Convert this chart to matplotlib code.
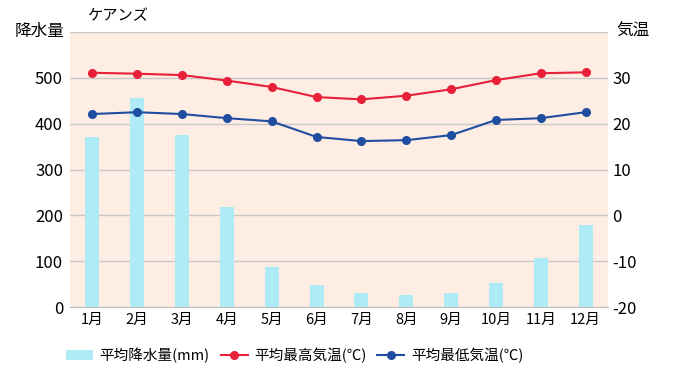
import matplotlib
matplotlib.use("Agg")
import matplotlib.pyplot as plt
import numpy as np

plt.rcParams['font.family'] = ['Noto Sans CJK JP', 'DejaVu Sans']

months = ["1月", "2月", "3月", "4月", "5月", "6月", "7月", "8月", "9月", "10月", "11月", "12月"]
precip = [371, 456, 376, 219, 87, 48, 31, 26, 31, 53, 107, 179]
tmax = [31.1, 30.9, 30.6, 29.4, 28.0, 25.8, 25.3, 26.1, 27.5, 29.5, 31.0, 31.2]
tmin = [22.1, 22.5, 22.1, 21.2, 20.5, 17.1, 16.2, 16.4, 17.5, 20.8, 21.2, 22.5]
left_ticks = [0, 100, 200, 300, 400, 500]
right_ticks = [-20, -10, 0, 10, 20, 30]

bar_color = "#AEEBF5"
red = "#E8203A"
blue = "#1F4DA0"
bg = "#FDEDE3"

fig = plt.figure(figsize=(6.8, 3.83), dpi=100)
ax = fig.add_axes([70/680, 1-307/383, 538/680, 275/383])
ax.set_facecolor(bg)
x = np.arange(len(months))
ax.set_xlim(-0.5, 11.5)
ax.set_ylim(0, 600)
for t in [100, 200, 300, 400, 500, 600]:
    ax.axhline(t, color="#C8C8C8", lw=1, zorder=1)
bars = ax.bar(x, precip, width=0.31, color=bar_color, zorder=2)
ax.set_yticks(left_ticks)
ax.set_yticklabels([str(v) for v in left_ticks], fontsize=12)
ax.set_xticks(x)
ax.set_xticklabels(months, fontsize=10.5)
ax.tick_params(axis='y', length=0, pad=5)
ax.tick_params(axis='x', length=0, pad=4)
for s in ['left', 'right', 'top']:
    ax.spines[s].set_visible(False)
ax.spines['bottom'].set_color("#BBBBBB")

ax2 = ax.twinx()
ax2.set_ylim(-20, 40)
l1, = ax2.plot(x, tmax, color=red, marker='o', ms=5.5, lw=1.5, zorder=3)
l2, = ax2.plot(x, tmin, color=blue, marker='o', ms=5.5, lw=1.5, zorder=3)
ax2.set_yticks(right_ticks)
ax2.set_yticklabels([str(v) for v in right_ticks], fontsize=12)
ax2.tick_params(axis='y', length=0, pad=3)
for s in ['left', 'right', 'top', 'bottom']:
    ax2.spines[s].set_visible(False)

fig.text(88/680, 1-16/383, "ケアンズ", fontsize=11, ha='left', va='center')
fig.text(15/680, 1-31/383, "降水量", fontsize=12, ha='left', va='center')
fig.text(616/680, 1-31/383, "気温", fontsize=12, ha='left', va='center')

fig.legend([bars, l1, l2], ["平均降水量(mm)", "平均最高気温(℃)", "平均最低気温(℃)"],
           loc='center left', bbox_to_anchor=(66/680, 1-355/383), ncol=3, frameon=False,
           borderpad=0, borderaxespad=0,
           fontsize=10.5, handlelength=1.85, handletextpad=0.45, columnspacing=0.75)

fig.savefig("out.png", dpi=100)
